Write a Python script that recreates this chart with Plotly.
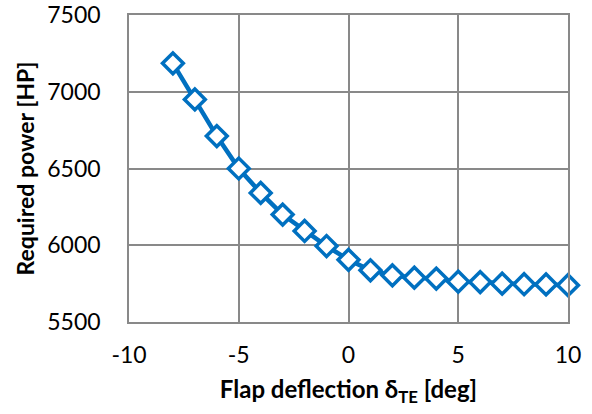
import plotly.graph_objects as go

flap_deg = [-8, -7, -6, -5, -4, -3, -2, -1, 0, 1, 2, 3, 4, 5, 6, 7, 8, 9, 10]
power_hp = [7185, 6950, 6711, 6500, 6341, 6200, 6093, 5995, 5905, 5837, 5804,
            5789, 5783, 5763, 5760, 5750, 5746, 5745, 5740]

x_ticks = [-10, -5, 0, 5, 10]
y_ticks = [5500, 6000, 6500, 7000, 7500]

blue = "#0070C0"
grid = "#898989"
font = "Lato, 'Open Sans', sans-serif"

fig = go.Figure(go.Scatter(
    x=flap_deg, y=power_hp, mode="lines+markers", cliponaxis=False,
    line=dict(color=blue, width=4.5),
    marker=dict(symbol="diamond", size=16, color="white",
                line=dict(color=blue, width=3.5)),
))

fig.update_layout(
    width=592, height=414,
    margin=dict(l=129, r=24, t=15, b=92),
    paper_bgcolor="white", plot_bgcolor="white",
    font=dict(family=font, size=23, color="black"),
    showlegend=False,
)
fig.update_xaxes(
    range=[-10, 10], tickvals=x_ticks, ticktext=[str(v) for v in x_ticks],
    showgrid=True, gridcolor=grid, gridwidth=1.5,
    showline=True, linecolor=grid, linewidth=1.5, mirror=True,
    zeroline=False, ticklabelstandoff=12, automargin=False,
    title=dict(text="<b>Flap deflection δ<sub>TE</sub> [deg]</b>",
               font=dict(size=24), standoff=14),
)
fig.update_yaxes(
    range=[5500, 7500], tickvals=y_ticks, ticktext=[str(v) for v in y_ticks],
    showgrid=True, gridcolor=grid, gridwidth=1.5,
    showline=True, linecolor=grid, linewidth=1.5, mirror=True,
    zeroline=False, ticklabelstandoff=22, automargin=False,
    title=dict(text="<b>Required power [HP]</b>", font=dict(size=23), standoff=6),
)

fig.write_html("out.html", config={"displayModeBar": False},
               post_script="document.body.style.margin='0';")
